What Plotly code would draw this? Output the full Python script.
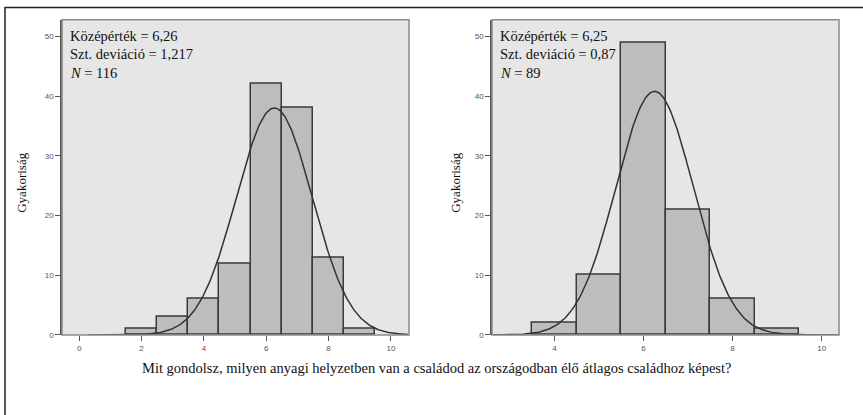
import numpy as np
import plotly.graph_objects as go

# ---- data ----
bins_left = [2, 3, 4, 5, 6, 7, 8, 9]
counts_left = [1, 3, 6, 12, 42, 38, 13, 1]
mean_left, sd_left, n_left = 6.26, 1.217, 116

bins_right = [4, 5, 6, 7, 8, 9]
counts_right = [2, 10, 49, 21, 6, 1]
mean_right, sd_right, n_right = 6.25, 0.87, 89

stats_left = ["Középérték = 6,26", "Szt. deviáció = 1,217", "<i>N</i> = 116"]
stats_right = ["Középérték = 6,25", "Szt. deviáció = 0,87", "<i>N</i> = 89"]
y_title = "Gyakoriság"
x_title = "Mit gondolsz, milyen anyagi helyzetben van a családod az országodban élő átlagos családhoz képest?"
xticks_left = [0, 2, 4, 6, 8, 10]
xticks_right = [4, 6, 8, 10]
yticks = [0, 10, 20, 30, 40, 50]

W, H = 863, 415
SERIF = "Liberation Serif, Times New Roman, serif"

def px_x(p):
    return p / W

def px_y(p):
    return 1 - p / H

fig = go.Figure()

BAR_FILL = "#bdbdbd"
BAR_LINE = "#3a3a3a"
CURVE = "#333333"

def normal_curve(xmin, xmax, mean, sd, n):
    xs = np.linspace(xmin, xmax, 300)
    ys = n * np.exp(-0.5 * ((xs - mean) / sd) ** 2) / (sd * np.sqrt(2 * np.pi))
    return xs, ys

xr_left = [-0.55, 10.58]
xr_right = [2.6, 10.39]
yr = [0, 52.8]

fig.add_trace(go.Bar(x=bins_left, y=counts_left, width=1, xaxis="x", yaxis="y",
                     marker=dict(color=BAR_FILL, line=dict(color=BAR_LINE, width=1.5)),
                     showlegend=False))
cx, cy = normal_curve(0.3, xr_left[1], mean_left, sd_left, n_left)
fig.add_trace(go.Scatter(x=cx, y=cy, mode="lines", xaxis="x", yaxis="y",
                         line=dict(color=CURVE, width=1.5), showlegend=False))

fig.add_trace(go.Bar(x=bins_right, y=counts_right, width=1, xaxis="x2", yaxis="y2",
                     marker=dict(color=BAR_FILL, line=dict(color=BAR_LINE, width=1.5)),
                     showlegend=False))
cx2, cy2 = normal_curve(xr_right[0], xr_right[1], mean_right, sd_right, n_right)
fig.add_trace(go.Scatter(x=cx2, y=cy2, mode="lines", xaxis="x2", yaxis="y2",
                         line=dict(color=CURVE, width=1.5), showlegend=False))

tickfont = dict(family="Arial, Liberation Sans, sans-serif", size=8, color="#555555")
common_x = dict(showgrid=False, zeroline=False, ticks="outside", ticklen=5,
                tickcolor="#555555", showline=False, tickfont=tickfont, fixedrange=True)
common_y = dict(showgrid=False, zeroline=False, ticks="outside", ticklen=5,
                tickcolor="#555555", showline=True, linecolor="#555555", linewidth=1.5,
                tickfont=tickfont, tickvals=yticks, range=yr, fixedrange=True)

fig.update_layout(
    width=W, height=H,
    margin=dict(l=0, r=0, t=0, b=0),
    paper_bgcolor="white",
    plot_bgcolor="#e6e6e6",
    bargap=0,
    xaxis=dict(domain=[px_x(62), px_x(409)], range=xr_left, tickvals=xticks_left,
               anchor="y", **common_x),
    yaxis=dict(domain=[px_y(339), px_y(20)], anchor="x", **common_y),
    xaxis2=dict(domain=[px_x(492), px_x(839)], range=xr_right, tickvals=xticks_right,
                anchor="y2", **common_x),
    yaxis2=dict(domain=[px_y(339), px_y(20)], anchor="x2", **common_y),
)

shapes = []
# plot-area frames
for x0, x1 in [(62, 409), (492, 839)]:
    shapes.append(dict(type="rect", xref="paper", yref="paper",
                       x0=px_x(x0), x1=px_x(x1), y0=px_y(339), y1=px_y(20),
                       line=dict(color="#8a8a8a", width=1.5), layer="above"))
# outer frame (top and left visible)
shapes.append(dict(type="rect", xref="paper", yref="paper",
                   x0=px_x(5), x1=1.05, y0=-0.1, y1=px_y(7.5),
                   line=dict(color="#222222", width=1.5)))
fig.update_layout(shapes=shapes)

annos = []
textfont = dict(family=SERIF, size=14.5, color="#111111")
for lines, x0 in [(stats_left, 68), (stats_right, 498)]:
    for i, t in enumerate(lines):
        annos.append(dict(xref="paper", yref="paper", x=px_x(x0), y=px_y(36 + 19 * i),
                          xanchor="left", yanchor="middle", text=t, showarrow=False,
                          font=textfont))
for xp in [22, 456]:
    annos.append(dict(xref="paper", yref="paper", x=px_x(xp), y=px_y(185),
                      xanchor="center", yanchor="middle", text=y_title, textangle=-90,
                      showarrow=False, font=dict(family=SERIF, size=13, color="#111111")))
annos.append(dict(xref="paper", yref="paper", x=px_x(437), y=px_y(372),
                  xanchor="center", yanchor="middle", text=x_title, showarrow=False,
                  font=dict(family=SERIF, size=14.5, color="#111111")))
fig.update_layout(annotations=annos)

fig.write_html("out.html", config={"displayModeBar": False},
               post_script="document.body.style.margin='0';")
